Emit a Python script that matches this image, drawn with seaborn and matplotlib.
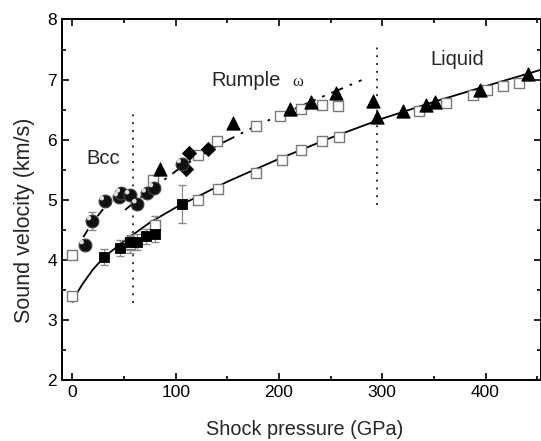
import numpy as np
import matplotlib
matplotlib.use("Agg")
import matplotlib.pyplot as plt
import matplotlib.transforms as mtransforms
from matplotlib.ticker import MultipleLocator
import seaborn as sns

# open squares (grey edge)
sq_p = [0, 0, 56, 80, 78, 121.5, 140, 177.5, 201, 221.7, 242, 257,
        121.5, 141.5, 177.5, 202.5, 221, 241.5, 258,
        336, 361.5, 387.5, 401.5, 417, 432.5]
sq_v = [3.39, 4.08, 4.26, 4.58, 5.33, 5.75, 5.97, 6.23, 6.39, 6.51, 6.58, 6.56,
        5.00, 5.18, 5.45, 5.66, 5.83, 5.97, 6.04,
        6.47, 6.61, 6.74, 6.82, 6.89, 6.94]
sq_err_p = [56, 80]
sq_err_v = [4.26, 4.58]
sq_err = [0.14, 0.15]

# filled squares
bsq_p = [31, 46, 56, 62.5, 71, 80, 106]
bsq_v = [4.05, 4.20, 4.29, 4.30, 4.39, 4.43, 4.93]
bsq_err = [0.13, 0.13, 0.13, 0.13, 0.13, 0.13, 0.32]

# spheres (bcc)
sph_p = [12, 19, 31.5, 45, 47, 56, 63, 72, 79, 106]
sph_v = [4.25, 4.65, 4.98, 5.05, 5.11, 5.08, 4.93, 5.11, 5.20, 5.60]
sph_err = [0.08, 0.15, 0.06, 0.06, 0.06, 0.06, 0.06, 0.06, 0.06, 0.06]

# filled triangles
tri_p = [84.7, 155.5, 210.5, 231.5, 255, 291, 295, 320.5, 342, 351, 395, 441]
tri_v = [5.52, 6.27, 6.51, 6.63, 6.77, 6.65, 6.37, 6.48, 6.58, 6.63, 6.83, 7.10]

# diamonds
dia_p = [110.5, 112.6, 131]
dia_v = [5.52, 5.78, 5.84]

# fit curves
liq_p = [0, 5, 10, 20, 31, 50, 75, 100, 150, 200, 250, 300, 350, 400, 455]
liq_v = [3.30, 3.46, 3.60, 3.84, 4.05, 4.31, 4.62, 4.87, 5.30, 5.68, 6.03, 6.35, 6.63, 6.89, 7.17]
rum_p = [51, 63, 80, 106, 140, 178, 200, 240, 280]
rum_v = [4.83, 5.00, 5.22, 5.55, 5.90, 6.23, 6.40, 6.70, 6.99]
bcc_p = [0, 5, 10, 15, 20, 30, 40, 50, 57]
bcc_v = [4.00, 4.20, 4.36, 4.50, 4.63, 4.85, 5.04, 5.22, 5.34]

# phase boundaries
bnd1_p, bnd1_v = [58.6, 58.6], [3.28, 6.49]
bnd2_p, bnd2_v = [295, 295], [4.91, 7.54]

sns.set_style("ticks")
plt.rcParams['font.family'] = ['Liberation Sans', 'DejaVu Sans']

fig = plt.figure(figsize=(5.41, 4.41), dpi=100)
ax = fig.add_axes([0.1146, 0.1383, 0.8854, 0.8175])

grey = '#8a8a8a'

# curves
sns.lineplot(x=liq_p, y=liq_v, ax=ax, color='black', lw=1.3, sort=False, estimator=None)
sns.lineplot(x=rum_p, y=rum_v, ax=ax, color='black', lw=1.3, sort=False, estimator=None,
             linestyle=(0, (7, 4, 1.5, 4)))
sns.lineplot(x=bcc_p, y=bcc_v, ax=ax, color='black', lw=1.3, sort=False, estimator=None,
             linestyle=(0, (5, 9)))

ax.plot(bnd1_p, bnd1_v, color='#333333', lw=1.4, linestyle=(0, (1, 3)))
ax.plot(bnd2_p, bnd2_v, color='#333333', lw=1.4, linestyle=(0, (1, 3)))

# error bars
ax.errorbar(sq_err_p, sq_err_v, yerr=sq_err, fmt='none', ecolor=grey, elinewidth=0.9, capsize=3)
ax.errorbar(bsq_p, bsq_v, yerr=bsq_err, fmt='none', ecolor=grey, elinewidth=0.9, capsize=3)
ax.errorbar(sph_p, sph_v, yerr=sph_err, fmt='none', ecolor=grey, elinewidth=0.9, capsize=3)

# markers
sns.scatterplot(x=sq_p, y=sq_v, ax=ax, marker='s', s=50, facecolor='white',
                edgecolor='#7a7a7a', linewidth=1.0, zorder=3)
sns.scatterplot(x=bsq_p, y=bsq_v, ax=ax, marker='s', s=58, color='black',
                edgecolor='black', zorder=4)
sns.scatterplot(x=tri_p, y=tri_v, ax=ax, marker='^', s=90, color='black',
                edgecolor='black', zorder=4)
sns.scatterplot(x=dia_p, y=dia_v, ax=ax, marker='D', s=52, color='black',
                edgecolor='black', zorder=4)
sns.scatterplot(x=sph_p, y=sph_v, ax=ax, marker='o', s=85, color='#111111',
                edgecolor='#444444', linewidth=0.8, zorder=5)
hl = mtransforms.offset_copy(ax.transData, fig=fig, x=-2.2, y=2.0, units='points')
ax.scatter(sph_p, sph_v, s=11, color='#dddddd', edgecolor='none', transform=hl, zorder=6)

# labels on the phases
ax.text(30, 5.69, 'Bcc', ha='center', va='center', fontsize=14.5)
ax.text(168, 6.99, 'Rumple', ha='center', va='center', fontsize=14.5)
ax.text(218, 6.96, 'ω', ha='center', va='center', fontsize=12, family=['Liberation Serif', 'DejaVu Serif'])
ax.text(373, 7.33, 'Liquid', ha='center', va='center', fontsize=14.5)

ax.set_xlim(-10, 453.7)
ax.set_ylim(2, 8)
ax.xaxis.set_major_locator(MultipleLocator(100))
ax.xaxis.set_minor_locator(MultipleLocator(50))
ax.yaxis.set_major_locator(MultipleLocator(1))
ax.yaxis.set_minor_locator(MultipleLocator(0.5))
ax.tick_params(which='both', direction='in', top=True, right=True, width=1.2, labelsize=12.5, colors='black')
ax.tick_params(which='major', length=5)
ax.tick_params(which='minor', length=3)
for sp in ax.spines.values():
    sp.set_linewidth(1.4)
    sp.set_color('black')
    sp.set_visible(True)

ax.set_xlabel('Shock pressure (GPa)', fontsize=14.3, va='center')
ax.xaxis.set_label_coords(0.507, -0.136)
ax.set_ylabel('Sound velocity (km/s)', fontsize=15.5, va='center')
ax.yaxis.set_label_coords(-0.079, 0.444)

fig.savefig('out.png', dpi=100)
